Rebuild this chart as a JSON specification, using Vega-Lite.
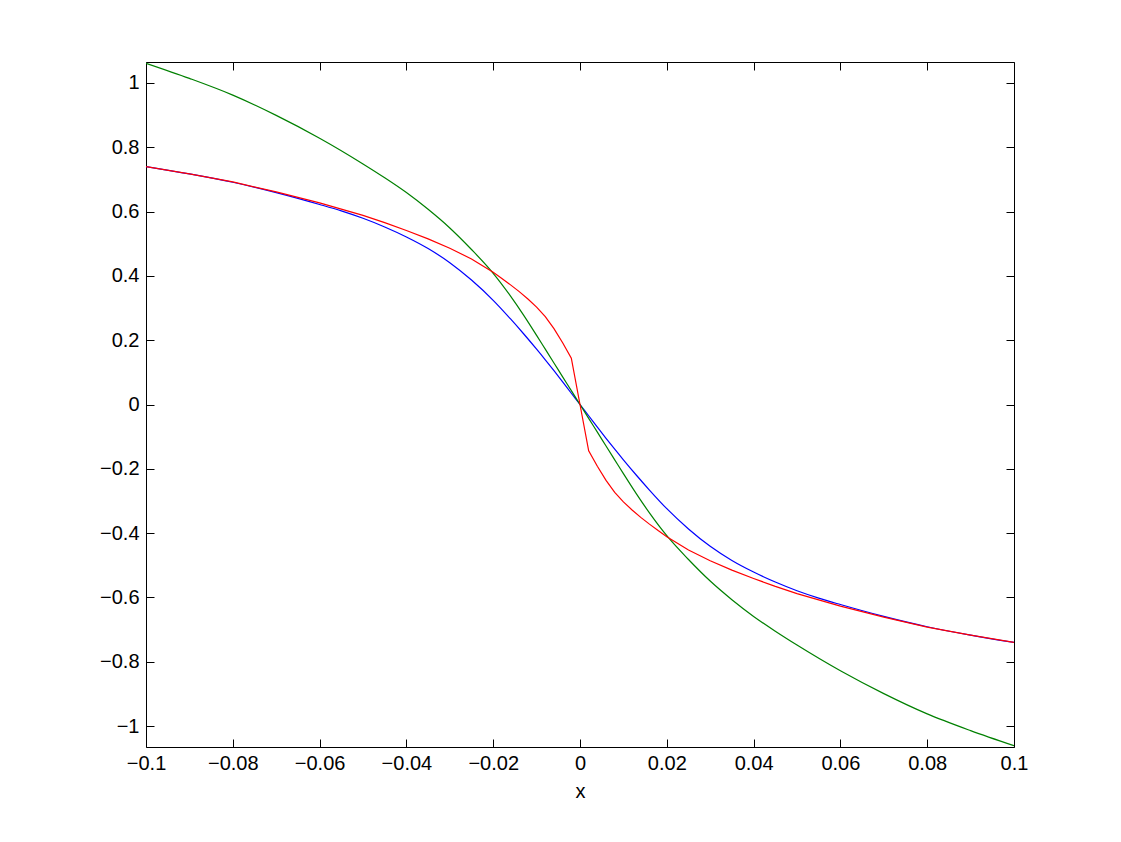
{
  "$schema": "https://vega.github.io/schema/vega-lite/v6.json",
  "width": 868,
  "height": 685,
  "autosize": {"type": "none"},
  "padding": {"left": 146, "top": 62, "right": 107, "bottom": 95},
  "background": "white",
  "config": {
    "view": {"stroke": "#000", "strokeWidth": 1},
    "axis": {
      "grid": false,
      "domain": false,
      "tickSize": -8,
      "tickColor": "#000",
      "tickWidth": 1,
      "labelFont": "Liberation Sans",
      "labelFontSize": 20,
      "labelColor": "#000",
      "titleFont": "Liberation Sans",
      "titleFontSize": 20,
      "titleFontWeight": "normal",
      "titleColor": "#000"
    }
  },
  "data": {
    "values": [
      {"x": -0.1, "y": 0.740, "s": "blue"},
      {"x": -0.09, "y": 0.717, "s": "blue"},
      {"x": -0.08, "y": 0.691, "s": "blue"},
      {"x": -0.07, "y": 0.659, "s": "blue"},
      {"x": -0.06, "y": 0.622, "s": "blue"},
      {"x": -0.055, "y": 0.602, "s": "blue"},
      {"x": -0.05, "y": 0.579, "s": "blue"},
      {"x": -0.045, "y": 0.552, "s": "blue"},
      {"x": -0.04, "y": 0.521, "s": "blue"},
      {"x": -0.035, "y": 0.485, "s": "blue"},
      {"x": -0.03, "y": 0.441, "s": "blue"},
      {"x": -0.025, "y": 0.387, "s": "blue"},
      {"x": -0.02, "y": 0.324, "s": "blue"},
      {"x": -0.016, "y": 0.266, "s": "blue"},
      {"x": -0.013, "y": 0.220, "s": "blue"},
      {"x": -0.01, "y": 0.172, "s": "blue"},
      {"x": -0.008, "y": 0.139, "s": "blue"},
      {"x": -0.006, "y": 0.105, "s": "blue"},
      {"x": -0.004, "y": 0.070, "s": "blue"},
      {"x": -0.002, "y": 0.035, "s": "blue"},
      {"x": 0, "y": 0, "s": "blue"},
      {"x": 0.002, "y": -0.035, "s": "blue"},
      {"x": 0.004, "y": -0.070, "s": "blue"},
      {"x": 0.006, "y": -0.105, "s": "blue"},
      {"x": 0.008, "y": -0.139, "s": "blue"},
      {"x": 0.01, "y": -0.172, "s": "blue"},
      {"x": 0.013, "y": -0.220, "s": "blue"},
      {"x": 0.016, "y": -0.266, "s": "blue"},
      {"x": 0.02, "y": -0.324, "s": "blue"},
      {"x": 0.025, "y": -0.387, "s": "blue"},
      {"x": 0.03, "y": -0.441, "s": "blue"},
      {"x": 0.035, "y": -0.485, "s": "blue"},
      {"x": 0.04, "y": -0.521, "s": "blue"},
      {"x": 0.045, "y": -0.552, "s": "blue"},
      {"x": 0.05, "y": -0.579, "s": "blue"},
      {"x": 0.055, "y": -0.602, "s": "blue"},
      {"x": 0.06, "y": -0.622, "s": "blue"},
      {"x": 0.07, "y": -0.659, "s": "blue"},
      {"x": 0.08, "y": -0.691, "s": "blue"},
      {"x": 0.09, "y": -0.717, "s": "blue"},
      {"x": 0.1, "y": -0.740, "s": "blue"},

      {"x": -0.1, "y": 1.061, "s": "green"},
      {"x": -0.09, "y": 1.014, "s": "green"},
      {"x": -0.08, "y": 0.962, "s": "green"},
      {"x": -0.07, "y": 0.899, "s": "green"},
      {"x": -0.06, "y": 0.828, "s": "green"},
      {"x": -0.05, "y": 0.748, "s": "green"},
      {"x": -0.045, "y": 0.705, "s": "green"},
      {"x": -0.04, "y": 0.659, "s": "green"},
      {"x": -0.035, "y": 0.607, "s": "green"},
      {"x": -0.03, "y": 0.549, "s": "green"},
      {"x": -0.025, "y": 0.482, "s": "green"},
      {"x": -0.02, "y": 0.408, "s": "green"},
      {"x": -0.016, "y": 0.337, "s": "green"},
      {"x": -0.013, "y": 0.278, "s": "green"},
      {"x": -0.01, "y": 0.215, "s": "green"},
      {"x": -0.008, "y": 0.172, "s": "green"},
      {"x": -0.006, "y": 0.129, "s": "green"},
      {"x": -0.004, "y": 0.086, "s": "green"},
      {"x": -0.002, "y": 0.043, "s": "green"},
      {"x": 0, "y": 0, "s": "green"},
      {"x": 0.002, "y": -0.043, "s": "green"},
      {"x": 0.004, "y": -0.086, "s": "green"},
      {"x": 0.006, "y": -0.129, "s": "green"},
      {"x": 0.008, "y": -0.172, "s": "green"},
      {"x": 0.01, "y": -0.215, "s": "green"},
      {"x": 0.013, "y": -0.278, "s": "green"},
      {"x": 0.016, "y": -0.337, "s": "green"},
      {"x": 0.02, "y": -0.408, "s": "green"},
      {"x": 0.025, "y": -0.482, "s": "green"},
      {"x": 0.03, "y": -0.549, "s": "green"},
      {"x": 0.035, "y": -0.607, "s": "green"},
      {"x": 0.04, "y": -0.659, "s": "green"},
      {"x": 0.045, "y": -0.705, "s": "green"},
      {"x": 0.05, "y": -0.748, "s": "green"},
      {"x": 0.06, "y": -0.828, "s": "green"},
      {"x": 0.07, "y": -0.899, "s": "green"},
      {"x": 0.08, "y": -0.962, "s": "green"},
      {"x": 0.09, "y": -1.014, "s": "green"},
      {"x": 0.1, "y": -1.061, "s": "green"},

      {"x": -0.1, "y": 0.740, "s": "red"},
      {"x": -0.09, "y": 0.717, "s": "red"},
      {"x": -0.08, "y": 0.692, "s": "red"},
      {"x": -0.07, "y": 0.661, "s": "red"},
      {"x": -0.06, "y": 0.627, "s": "red"},
      {"x": -0.05, "y": 0.588, "s": "red"},
      {"x": -0.045, "y": 0.5655, "s": "red"},
      {"x": -0.04, "y": 0.541, "s": "red"},
      {"x": -0.035, "y": 0.515, "s": "red"},
      {"x": -0.03, "y": 0.486, "s": "red"},
      {"x": -0.025, "y": 0.4525, "s": "red"},
      {"x": -0.02, "y": 0.411, "s": "red"},
      {"x": -0.018, "y": 0.392, "s": "red"},
      {"x": -0.016, "y": 0.372, "s": "red"},
      {"x": -0.014, "y": 0.351, "s": "red"},
      {"x": -0.012, "y": 0.328, "s": "red"},
      {"x": -0.01, "y": 0.303, "s": "red"},
      {"x": -0.008, "y": 0.273, "s": "red"},
      {"x": -0.006, "y": 0.236, "s": "red"},
      {"x": -0.004, "y": 0.192, "s": "red"},
      {"x": -0.002, "y": 0.144, "s": "red"},
      {"x": 0, "y": 0, "s": "red"},
      {"x": 0.002, "y": -0.144, "s": "red"},
      {"x": 0.004, "y": -0.192, "s": "red"},
      {"x": 0.006, "y": -0.236, "s": "red"},
      {"x": 0.008, "y": -0.273, "s": "red"},
      {"x": 0.01, "y": -0.303, "s": "red"},
      {"x": 0.012, "y": -0.328, "s": "red"},
      {"x": 0.014, "y": -0.351, "s": "red"},
      {"x": 0.016, "y": -0.372, "s": "red"},
      {"x": 0.018, "y": -0.392, "s": "red"},
      {"x": 0.02, "y": -0.411, "s": "red"},
      {"x": 0.025, "y": -0.4525, "s": "red"},
      {"x": 0.03, "y": -0.486, "s": "red"},
      {"x": 0.035, "y": -0.515, "s": "red"},
      {"x": 0.04, "y": -0.541, "s": "red"},
      {"x": 0.045, "y": -0.5655, "s": "red"},
      {"x": 0.05, "y": -0.588, "s": "red"},
      {"x": 0.06, "y": -0.627, "s": "red"},
      {"x": 0.07, "y": -0.661, "s": "red"},
      {"x": 0.08, "y": -0.692, "s": "red"},
      {"x": 0.09, "y": -0.717, "s": "red"},
      {"x": 0.1, "y": -0.740, "s": "red"}
    ]
  },
  "encoding": {
    "x": {
      "field": "x",
      "type": "quantitative",
      "scale": {"domain": [-0.1, 0.1], "nice": false, "zero": false}
    },
    "y": {
      "field": "y",
      "type": "quantitative",
      "scale": {"domain": [-1.065, 1.065], "nice": false, "zero": false}
    },
    "color": {
      "field": "s",
      "type": "nominal",
      "scale": {"domain": ["blue", "green", "red"], "range": ["#0000ff", "#008000", "#ff0000"]},
      "legend": null
    }
  },
  "layer": [
    {
      "transform": [{"filter": "datum.s !== 'red'"}],
      "mark": {"type": "line", "strokeWidth": 1.2, "interpolate": "monotone", "clip": true},
      "encoding": {
        "x": {
          "field": "x",
          "type": "quantitative",
          "axis": {
            "orient": "bottom",
            "values": [-0.1, -0.08, -0.06, -0.04, -0.02, 0, 0.02, 0.04, 0.06, 0.08, 0.1],
            "format": ".2~f",
            "labelPadding": 14,
            "labelFlush": false,
            "title": "x",
            "titlePadding": 8
          }
        },
        "y": {
          "field": "y",
          "type": "quantitative",
          "axis": {
            "orient": "left",
            "values": [-1, -0.8, -0.6, -0.4, -0.2, 0, 0.2, 0.4, 0.6, 0.8, 1],
            "format": ".1~f",
            "labelPadding": 15,
            "labelFlush": false,
            "title": null
          }
        }
      }
    },
    {
      "transform": [{"filter": "datum.s === 'red'"}],
      "mark": {"type": "line", "strokeWidth": 1.2, "clip": true},
      "encoding": {
        "x": {
          "field": "x",
          "type": "quantitative",
          "axis": {
            "orient": "top",
            "values": [-0.1, -0.08, -0.06, -0.04, -0.02, 0, 0.02, 0.04, 0.06, 0.08, 0.1],
            "labels": false,
            "title": null
          }
        },
        "y": {
          "field": "y",
          "type": "quantitative",
          "axis": {
            "orient": "right",
            "values": [-1, -0.8, -0.6, -0.4, -0.2, 0, 0.2, 0.4, 0.6, 0.8, 1],
            "labels": false,
            "title": null
          }
        }
      }
    }
  ],
  "resolve": {"axis": {"x": "independent", "y": "independent"}}
}
